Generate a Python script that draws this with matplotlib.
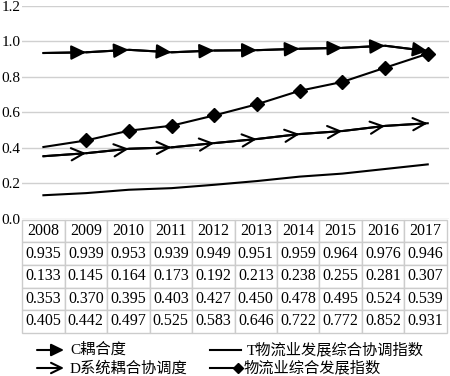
import numpy as np
import matplotlib
matplotlib.use('Agg')
import matplotlib.pyplot as plt
from matplotlib.lines import Line2D
from matplotlib.patches import FancyArrowPatch

plt.rcParams['font.family'] = ['Liberation Serif', 'Noto Sans CJK SC']

years = ['2008', '2009', '2010', '2011', '2012', '2013', '2014', '2015', '2016', '2017']
c_coupling = [0.935, 0.939, 0.953, 0.939, 0.949, 0.951, 0.959, 0.964, 0.976, 0.946]
t_index = [0.133, 0.145, 0.164, 0.173, 0.192, 0.213, 0.238, 0.255, 0.281, 0.307]
d_coord = [0.353, 0.370, 0.395, 0.403, 0.427, 0.450, 0.478, 0.495, 0.524, 0.539]
logistics = [0.405, 0.442, 0.497, 0.525, 0.583, 0.646, 0.722, 0.772, 0.852, 0.931]
labels = ['C耦合度', 'T物流业发展综合协调指数', 'D系统耦合协调度', '物流业综合发展指数']
yticks = [0.0, 0.2, 0.4, 0.6, 0.8, 1.0, 1.2]

fig = plt.figure(figsize=(4.5, 3.76), dpi=100)
ax = fig.add_axes([0.049, 0.418, 0.949, 0.566])
x = np.arange(len(years))

C_HEAD = '-|>,head_length=0.45,head_width=0.22'
D_HEAD = '->,head_length=0.45,head_width=0.22'


def arrow_line(vals, style, scale):
    ax.plot(x, vals, color='black', lw=1.5, zorder=3)
    for i in range(1, len(vals)):
        ax.annotate('', xy=(x[i], vals[i]), xytext=(x[i - 1], vals[i - 1]),
                    arrowprops=dict(arrowstyle=style, color='black', lw=1.5,
                                    mutation_scale=scale, shrinkA=0, shrinkB=0),
                    zorder=4)


arrow_line(c_coupling, C_HEAD, 20)
ax.plot(x, t_index, color='black', lw=1.5, zorder=3)
arrow_line(d_coord, D_HEAD, 20)
ax.plot(x, logistics, color='black', lw=1.5, marker='D', markersize=7,
        markevery=list(range(1, len(years))), zorder=3)

ax.set_xlim(-0.5, len(years) - 0.5)
ax.set_ylim(0, 1.2)
ax.set_yticks(yticks)
ax.set_yticklabels([f'{v:.1f}' for v in yticks], fontsize=11)
ax.set_xticks([])
ax.tick_params(axis='y', length=0, pad=1)
ax.grid(axis='y', color='#d0d0d0', lw=1)
ax.set_axisbelow(True)
for s in ax.spines.values():
    s.set_visible(False)

cell_text = [years] + [[f'{v:.3f}' for v in row] for row in (c_coupling, t_index, d_coord, logistics)]
tbl = ax.table(cellText=cell_text, cellLoc='center', bbox=[0, -0.535, 0.995, 0.53])
tbl.auto_set_font_size(False)
tbl.set_fontsize(11.5)
for cell in tbl.get_celld().values():
    cell.set_edgecolor('#cccccc')
    cell.set_linewidth(1)
    cell.get_text().set_fontfamily(['Liberation Serif', 'Noto Sans CJK SC'])

# legend drawn by hand (arrow keys)
W, H = 450, 376
def fx(px):
    return px / W
def fy(py):
    return 1 - py / H

leg = [(37, 64, 350, C_HEAD, None, labels[0]),
       (210, 241, 350, '-', None, labels[1]),
       (37, 64, 368, D_HEAD, None, labels[2]),
       (210, 238, 368, '-', 'D', labels[3])]
for x0, x1, yy, style, mk, text in leg:
    if style == '-':
        fig.add_artist(Line2D([fx(x0), fx(x1)], [fy(yy), fy(yy)], color='black', lw=1.5,
                              transform=fig.transFigure))
        if mk:
            fig.add_artist(Line2D([fx(x1)], [fy(yy)], color='black', marker=mk, markersize=5,
                                  transform=fig.transFigure))
    else:
        fig.add_artist(FancyArrowPatch((fx(x0), fy(yy)), (fx(x1), fy(yy)),
                                       arrowstyle=style, color='black', lw=1.5,
                                       mutation_scale=17, shrinkA=0, shrinkB=0,
                                       transform=fig.transFigure))
    fig.text(fx(x1 + 6), fy(yy), text, fontsize=11, va='center', ha='left')

fig.savefig('out.png', dpi=100)
